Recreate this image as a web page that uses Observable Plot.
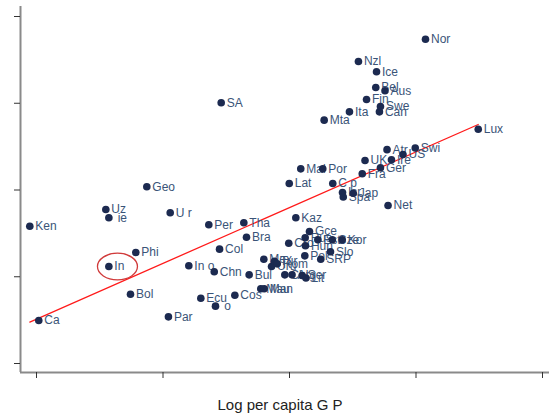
<!DOCTYPE html>
<html>
<head>
<meta charset="utf-8">
<script src="https://cdn.jsdelivr.net/npm/d3@7"></script>
<script src="https://cdn.jsdelivr.net/npm/@observablehq/plot@0.6"></script>
<style>
  html, body { margin: 0; padding: 0; background: #fff; }
  #chart svg { display: block; font-family: "Liberation Sans", Arial, Helvetica, sans-serif; }
</style>
</head>
<body>
<div id="chart"></div>
<script>
// Country labels, log per capita GDP (x) and outcome (y)
const countries = ["Ken","Ca","Uz"," ie","In","Phi","Bol","Geo","Par","U r","In o","Ecu","Per","Chn"," o","Col","SA","Cos","Tha","Bra","Bul","Mau","Man","Mex","Uru","Tur","Rom","Chl","Cro","Lat","Arg","Kaz","Mal","Ser","Pol","Rus","Hun","Lit","Gce","Est","SRP","Por","Mta","Slo","Cze","C p","Kor","Isr","Spa","Jap","Ita","Nzl","Fra","UK","Fin","Bel","Ice","Can","Swe","Ger","Aus","Atr","Net","Ire","US","Swi","Nor","Lux"];
const logGdp = [6.947,7.018,7.548,7.572,7.572,7.785,7.743,7.872,8.043,8.057,8.204,8.299,8.362,8.405,8.415,8.447,8.460,8.568,8.639,8.660,8.681,8.773,8.800,8.797,8.858,8.881,8.903,8.963,8.994,8.998,9.020,9.050,9.089,9.100,9.121,9.124,9.126,9.130,9.158,9.224,9.247,9.263,9.274,9.324,9.338,9.342,9.417,9.419,9.425,9.504,9.474,9.545,9.575,9.597,9.609,9.682,9.688,9.711,9.719,9.719,9.755,9.771,9.779,9.806,9.897,9.994,10.075,10.492];
const outcome = [2.583,1.496,2.775,2.680,2.118,2.280,1.799,3.037,1.538,2.737,2.126,1.753,2.599,2.057,1.661,2.318,4.005,1.787,2.622,2.456,2.022,1.861,1.861,2.202,2.118,2.179,2.149,2.022,2.387,3.075,2.022,2.680,3.244,2.014,2.241,2.449,2.357,1.986,2.522,2.426,2.202,3.244,3.805,2.288,2.426,3.075,2.426,2.971,2.919,2.963,3.901,4.481,3.187,3.340,4.043,4.182,4.363,3.901,3.963,3.256,4.144,3.465,2.821,3.348,3.409,3.484,4.738,3.701];

// Fitted line endpoints (from min to max x)
const fitX = [6.947, 10.492];
const fitY = [1.478, 3.755];

// Highlighted observation (circled)
const highlight = [{x: 7.64, y: 2.118}];

const xTicks = [7, 8, 9, 10, 11];
const yTicks = [1, 2, 3, 4, 5];
const xLabel = "Log per capita G P";

const data = countries.map((c, i) => ({name: c, x: logGdp[i], y: outcome[i]}));
const fit = fitX.map((x, i) => ({x, y: fitY[i]}));

const xDomain = [6.8735, 11.0553];
const yDomain = [0.8963, 5.1153];

const ellipse = {
  draw(ctx) {
    const rx = 20, ry = 13.3, k = 0.5523;
    ctx.moveTo(rx, 0);
    ctx.bezierCurveTo(rx, ry * k, rx * k, ry, 0, ry);
    ctx.bezierCurveTo(-rx * k, ry, -rx, ry * k, -rx, 0);
    ctx.bezierCurveTo(-rx, -ry * k, -rx * k, -ry, 0, -ry);
    ctx.bezierCurveTo(rx * k, -ry, rx, -ry * k, rx, 0);
    ctx.closePath();
  }
};

const chart = Plot.plot({
  width: 549,
  height: 417,
  marginLeft: 20,
  marginRight: 0,
  marginTop: 6,
  marginBottom: 45,
  style: {background: "#fff", fontFamily: "Liberation Sans, Arial, sans-serif"},
  x: {domain: xDomain},
  y: {domain: yDomain},
  marks: [
    Plot.ruleX([xDomain[0]], {stroke: "#8a8a8a", strokeWidth: 2}),
    Plot.ruleY([yDomain[0]], {stroke: "#8a8a8a", strokeWidth: 2}),
    Plot.axisX({ticks: xTicks, tickSize: 6, tickFormat: () => "", label: null, stroke: "#333"}),
    Plot.axisY({ticks: yTicks, tickSize: 6, tickFormat: () => "", label: null, stroke: "#333"}),
    Plot.line(fit, {x: "x", y: "y", stroke: "#ff1a1a", strokeWidth: 1.3}),
    Plot.text(data, {x: "x", y: "y", text: "name", textAnchor: "start", dx: 5.5, fill: "#3a5478", fontSize: 12}),
    Plot.dot(data, {x: "x", y: "y", r: 3.8, fill: "#1c2a50", stroke: "none"}),
    Plot.dot(highlight, {x: "x", y: "y", symbol: ellipse, fill: "none", stroke: "#d03a3a", strokeWidth: 1.3}),
    Plot.text([xLabel], {frameAnchor: "bottom", text: d => d, dx: -5, dy: 33, lineAnchor: "middle", fontSize: 15, fill: "#222"})
  ]
});
document.getElementById("chart").appendChild(chart);
</script>
</body>
</html>
